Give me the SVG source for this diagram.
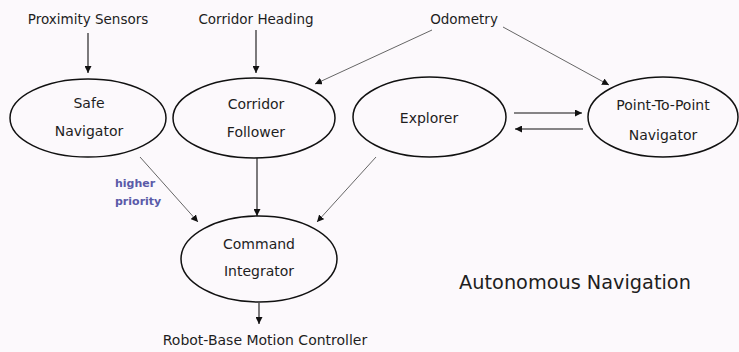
<svg xmlns="http://www.w3.org/2000/svg" width="739" height="352" viewBox="0 0 739 352">
<defs>
<marker id="ah" viewBox="0 0 10 10" refX="10" refY="5" markerWidth="7" markerHeight="7" markerUnits="userSpaceOnUse" orient="auto">
<path d="M0,0 L10,5 L0,10 z" fill="#111"/>
</marker>
</defs>
<style>
.t{font-family:"DejaVu Sans",Verdana,sans-serif;font-size:14px;fill:#1e1e1e;text-anchor:middle}
.n{fill:none;stroke:#111;stroke-width:1.5}
.c{stroke:#111;stroke-width:1.1;fill:none;marker-end:url(#ah)}
.g{stroke:#666;stroke-width:1}
.p{font-family:"DejaVu Sans",Verdana,sans-serif;font-size:11px;font-weight:bold;fill:#5a5aa8}
</style>
<rect width="739" height="352" fill="#fcf9fc"/>
<text class="t" x="88" y="24" style="font-size:13.5px">Proximity Sensors</text>
<text class="t" x="256" y="24" style="font-size:13.5px">Corridor Heading</text>
<text class="t" x="464" y="24" style="font-size:13.5px">Odometry</text>
<text class="t" x="265" y="345">Robot-Base Motion Controller</text>
<text class="t" x="575" y="289" style="font-size:19.3px">Autonomous Navigation</text>
<text class="p" x="115" y="187">higher</text>
<text class="p" x="115" y="205">priority</text>
<g id="safe-navigator">
<ellipse class="n" cx="88" cy="118" rx="78" ry="39"/>
<text class="t" x="89" y="108">Safe</text>
<text class="t" x="89" y="136">Navigator</text>
</g>
<g id="corridor-follower">
<ellipse class="n" cx="254" cy="118" rx="81" ry="40"/>
<text class="t" x="256" y="109">Corridor</text>
<text class="t" x="256" y="137">Follower</text>
</g>
<g id="explorer">
<ellipse class="n" cx="429.5" cy="117" rx="76.5" ry="40"/>
<text class="t" x="429" y="123">Explorer</text>
</g>
<g id="point-to-point-navigator">
<ellipse class="n" cx="663" cy="117" rx="75" ry="40"/>
<text class="t" x="663" y="110">Point-To-Point</text>
<text class="t" x="663" y="140">Navigator</text>
</g>
<g id="command-integrator">
<ellipse class="n" cx="259" cy="259" rx="78" ry="43"/>
<text class="t" x="259" y="249">Command</text>
<text class="t" x="259" y="276">Integrator</text>
</g>
<g id="connectors">
<line class="c" x1="88" y1="33" x2="88" y2="73"/>
<line class="c" x1="256" y1="30" x2="256" y2="73"/>
<line class="c g" x1="432" y1="30" x2="315" y2="84"/>
<line class="c g" x1="503" y1="27" x2="609" y2="85"/>
<line class="c" x1="514" y1="113" x2="582" y2="113"/>
<line class="c" x1="583" y1="129" x2="515" y2="129"/>
<line class="c g" x1="140" y1="157" x2="198" y2="222"/>
<line class="c" x1="257" y1="158" x2="257" y2="216"/>
<line class="c g" x1="376" y1="157" x2="317" y2="222"/>
<line class="c" x1="259" y1="303" x2="259" y2="324"/>
</g>
</svg>
